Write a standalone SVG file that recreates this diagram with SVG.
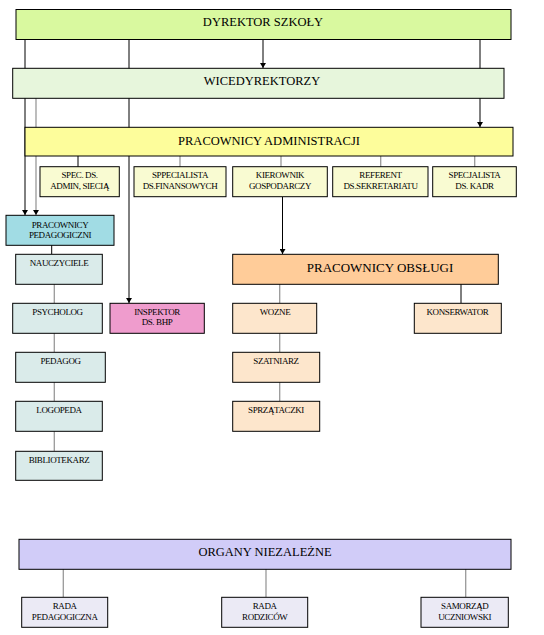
<svg xmlns="http://www.w3.org/2000/svg" width="544" height="635" viewBox="0 0 544 635" font-family="'Liberation Serif', 'DejaVu Serif', serif">
<defs>
<marker id="arr" markerWidth="6" markerHeight="6" refX="5" refY="3" orient="auto" markerUnits="userSpaceOnUse" viewBox="0 0 6 6">
<path d="M0,0 L5,3 L0,6 Z" fill="#000"/>
</marker>
</defs>
<style>
rect{stroke:#000;stroke-width:1}
text{font-family:'Liberation Serif','DejaVu Serif',serif;fill:#000;text-anchor:middle}
.t{font-size:12.5px}
.s{font-size:9px;letter-spacing:-0.4px}
.l{stroke:#000;stroke-width:1;fill:none}
.g{stroke:#999;stroke-width:1.3;fill:none}
.a{marker-end:url(#arr)}
</style>
<rect width="544" height="635" fill="#fff" style="stroke:none"/>
<g id="connectors">
<line class="l a" x1="25" y1="39" x2="25" y2="215"/>
<line class="l a" x1="129" y1="39" x2="129" y2="303"/>
<line class="l a" x1="263" y1="39" x2="263" y2="68"/>
<line class="l a" x1="480" y1="39" x2="480" y2="127"/>
<line class="g a" x1="36" y1="98" x2="36" y2="215"/>
<line class="l" x1="78" y1="156" x2="78" y2="167"/>
<line class="g" x1="180" y1="156" x2="180" y2="167"/>
<line class="g" x1="281" y1="156" x2="281" y2="167"/>
<line class="g" x1="380.7" y1="156" x2="380.7" y2="167"/>
<line class="g" x1="474.7" y1="156" x2="474.7" y2="167"/>
<line class="l a" x1="282.5" y1="197" x2="282.5" y2="254"/>
<line class="l" x1="51.7" y1="245" x2="51.7" y2="254"/>
<line class="g" x1="54.3" y1="284" x2="54.3" y2="303"/>
<line class="g" x1="54.3" y1="333" x2="54.3" y2="352"/>
<line class="g" x1="54.3" y1="382" x2="54.3" y2="401"/>
<line class="g" x1="54.3" y1="431" x2="54.3" y2="451"/>
<line class="g" x1="279.7" y1="284" x2="279.7" y2="303"/>
<line class="g" x1="279.7" y1="333" x2="279.7" y2="352"/>
<line class="g" x1="279.7" y1="382" x2="279.7" y2="401"/>
<line class="l" x1="461" y1="284" x2="461" y2="303"/>
<line class="g" x1="63.3" y1="569" x2="63.3" y2="597"/>
<line class="g" x1="266" y1="569" x2="266" y2="597"/>
<line class="g" x1="465.7" y1="569" x2="465.7" y2="597"/>
</g>
<g id="dyrektor"><rect x="16" y="9.5" width="495" height="30" fill="#d9f99f"/><text class="t" x="263" y="26">DYREKTOR SZKOŁY</text></g>
<g id="wicedyrektorzy"><rect x="12.7" y="68.3" width="491.3" height="30" fill="#e7f6dc"/><text class="t" x="262" y="85">WICEDYREKTORZY</text></g>
<g id="administracja"><rect x="25" y="127.3" width="488" height="28.7" fill="#fdfd9b"/><text class="t" x="269" y="145">PRACOWNICY ADMINISTRACJI</text></g>
<g id="spec-admin"><rect x="40" y="166.7" width="79.3" height="30" fill="#f9fbd2"/><text class="s" x="79.6" y="178">SPEC. DS.</text><text class="s" x="79.6" y="189">ADMIN, SIECIĄ</text></g>
<g id="spec-fin"><rect x="134" y="166.7" width="92" height="30" fill="#f9fbd2"/><text class="s" x="180" y="178">SPPECIALISTA</text><text class="s" x="180" y="189">DS.FINANSOWYCH</text></g>
<g id="kierownik"><rect x="232.7" y="166.7" width="94.6" height="30" fill="#f9fbd2"/><text class="s" x="280" y="178">KIEROWNIK</text><text class="s" x="280" y="189">GOSPODARCZY</text></g>
<g id="referent"><rect x="332.7" y="166.7" width="95.3" height="30" fill="#f9fbd2"/><text class="s" x="380.5" y="178">REFERENT</text><text class="s" x="380.5" y="189">DS.SEKRETARIATU</text></g>
<g id="spec-kadr"><rect x="432.7" y="166.7" width="83.6" height="30" fill="#f9fbd2"/><text class="s" x="474.5" y="178">SPECJALISTA</text><text class="s" x="474.5" y="189">DS. KADR</text></g>
<g id="pedagogiczni"><rect x="6" y="215.3" width="108" height="30" fill="#a1dce4"/><text class="s" x="60" y="227.5">PRACOWNICY</text><text class="s" x="60" y="237.5">PEDAGOGICZNI</text></g>
<g id="nauczyciele"><rect x="15.7" y="254.3" width="86.6" height="30" fill="#daebea"/><text class="s" x="59" y="266">NAUCZYCIELE</text></g>
<g id="psycholog"><rect x="12.7" y="303.3" width="89.6" height="30" fill="#daebea"/><text class="s" x="57.5" y="315">PSYCHOLOG</text></g>
<g id="pedagog"><rect x="15.7" y="352.3" width="89.6" height="30" fill="#daebea"/><text class="s" x="60.5" y="364">PEDAGOG</text></g>
<g id="logopeda"><rect x="15.7" y="401.3" width="86.6" height="30" fill="#daebea"/><text class="s" x="59" y="413">LOGOPEDA</text></g>
<g id="bibliotekarz"><rect x="15.7" y="451.3" width="86.6" height="29" fill="#daebea"/><text class="s" x="59" y="463">BIBLIOTEKARZ</text></g>
<g id="inspektor"><rect x="110" y="303.3" width="94.3" height="30" fill="#ef9ccd"/><text class="s" x="157" y="315">INSPEKTOR</text><text class="s" x="157" y="325">DS. BHP</text></g>
<g id="obslugi"><rect x="232.7" y="254.3" width="265.6" height="30" fill="#ffcc99"/><text class="t" x="380" y="272" style="font-size:13px">PRACOWNICY OBSŁUGI</text></g>
<g id="wozne"><rect x="232.7" y="303.3" width="84" height="30" fill="#fde6cc"/><text class="s" x="275" y="315">WOZNE</text></g>
<g id="szatniarz"><rect x="232.7" y="352.3" width="87" height="30" fill="#fde6cc"/><text class="s" x="276" y="364">SZATNIARZ</text></g>
<g id="sprzataczki"><rect x="232.7" y="401.3" width="87" height="30" fill="#fde6cc"/><text class="s" x="276" y="413">SPRZĄTACZKI</text></g>
<g id="konserwator"><rect x="414.3" y="303.3" width="87" height="30" fill="#fde6cc"/><text class="s" x="457.5" y="315">KONSERWATOR</text></g>
<g id="organy"><rect x="19" y="539.3" width="492" height="30" fill="#d1ccf8"/><text class="t" x="265" y="556">ORGANY NIEZALEŻNE</text></g>
<g id="rada-ped"><rect x="21.7" y="597.3" width="86" height="30" fill="#ebeaf5"/><text class="s" x="64.7" y="609">RADA</text><text class="s" x="64.7" y="620">PEDAGOGICZNA</text></g>
<g id="rada-rodz"><rect x="221.7" y="597.3" width="86" height="30" fill="#ebeaf5"/><text class="s" x="264.7" y="609">RADA</text><text class="s" x="264.7" y="620">RODZICÓW</text></g>
<g id="samorzad"><rect x="421" y="597.3" width="87.3" height="30" fill="#ebeaf5"/><text class="s" x="464.7" y="609">SAMORZĄD</text><text class="s" x="464.7" y="620">UCZNIOWSKI</text></g>
</svg>
